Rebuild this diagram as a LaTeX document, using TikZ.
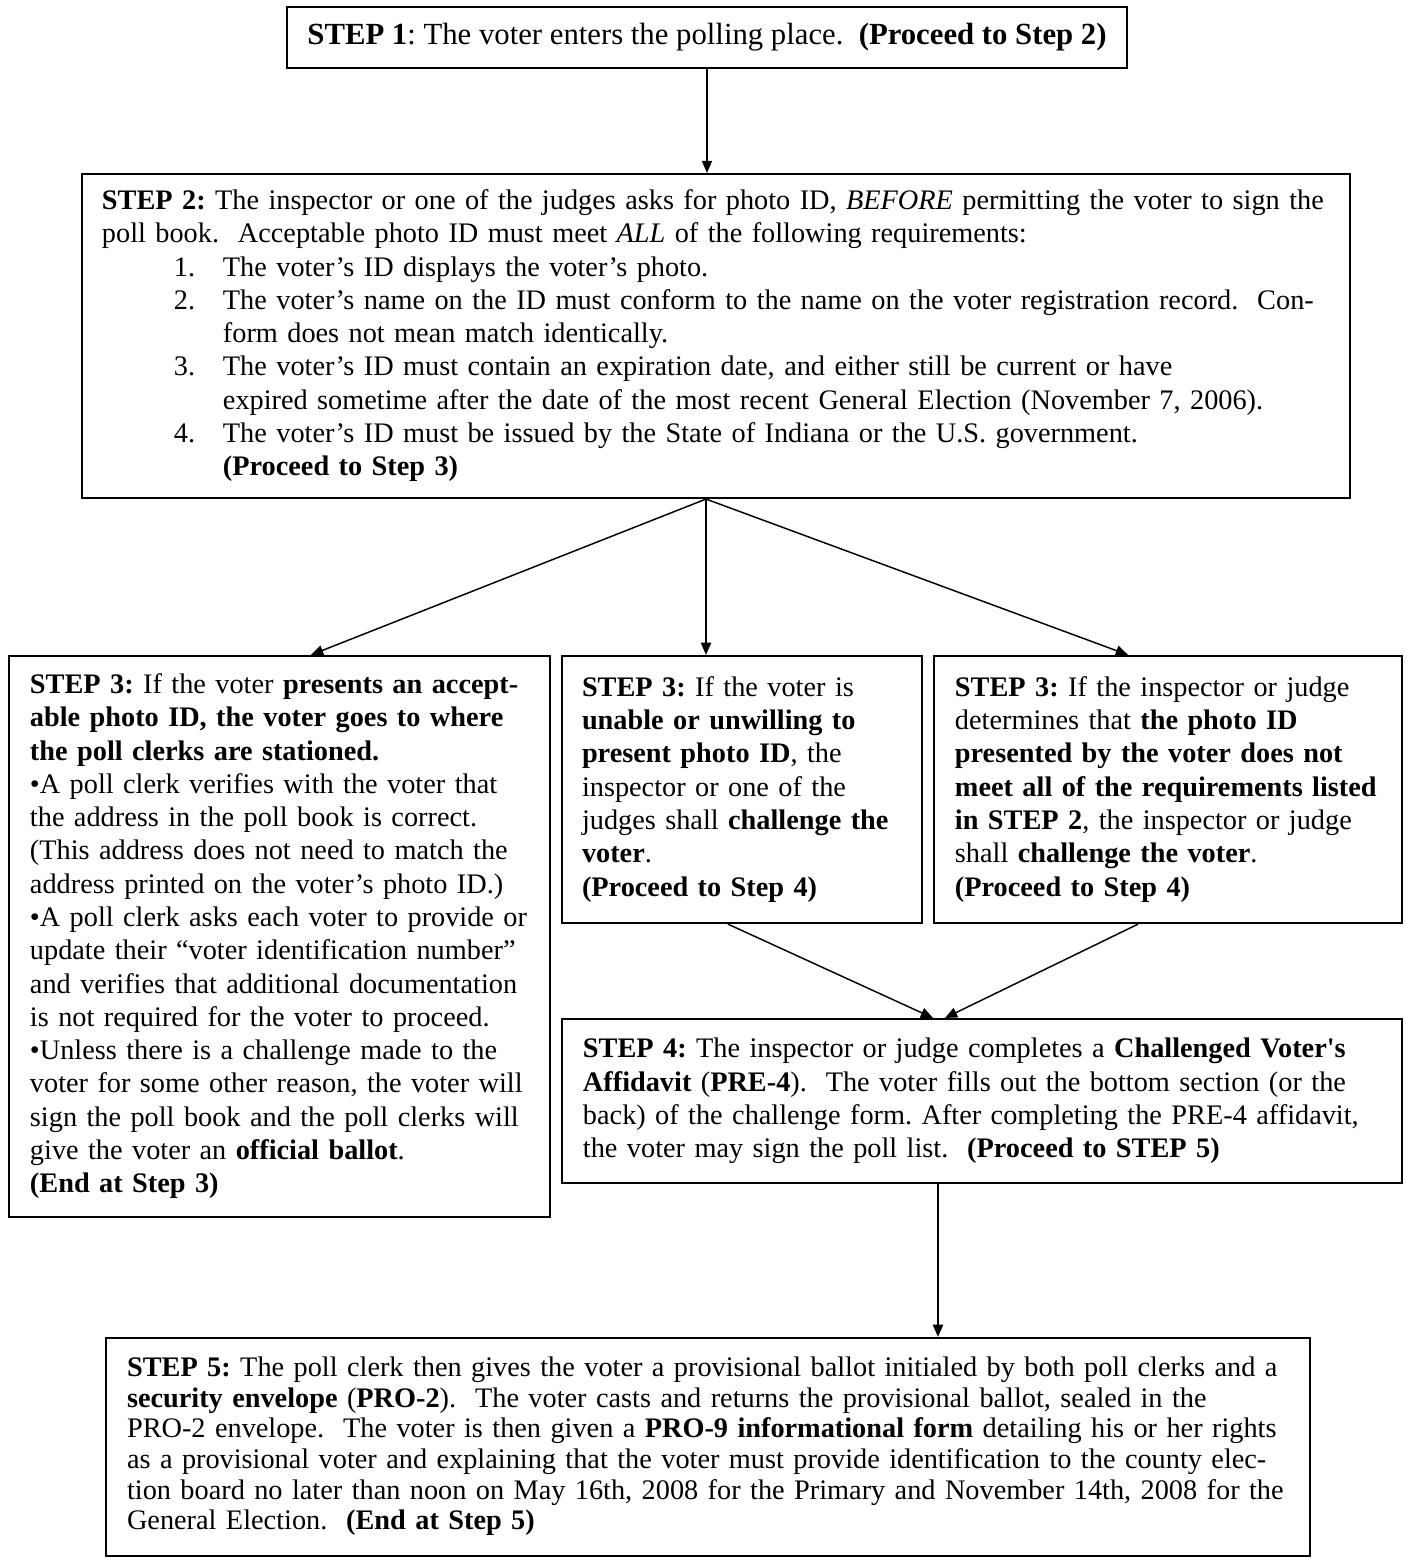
\documentclass[tikz,border=0pt]{standalone}
\usepackage{fontspec}
\setmainfont{Liberation Serif}
\usetikzlibrary{calc}
\usetikzlibrary{arrows.meta}

\newcommand{\steplines}[1]{\begin{tabular}{@{}l@{}}#1\end{tabular}}
\newcommand{\listnum}[1]{\hspace*{29.5pt}\makebox[20.1pt][l]{#1}}
\newcommand{\listgap}{\hspace*{49.6pt}}

\tikzset{
  stepbox/.style={draw, line width=0.9pt, rectangle, inner ysep=0pt, align=left,
    font={\fontsize{11.6}{13.65}\selectfont\frenchspacing}},
  flow/.style={line width=0.6pt, -{Triangle[length=5pt, width=4.2pt]}}
}

\begin{document}
\begin{tikzpicture}[x=0.41pt, y=-0.41pt]
  \useasboundingbox (0, 0) rectangle (1406, 1560);

  \node[stepbox, align=center, minimum width=344.4pt, minimum height=25pt,
    font={\fontsize{12.6}{14}\selectfont\frenchspacing}] (stepone) at (707, 37.5)
    {\textbf{STEP 1}: The voter enters the polling place.\ \ \textbf{(Proceed to Step 2)}};

  \node[stepbox, text width=503.5pt, inner xsep=8.2pt, minimum height=132.8pt] (steptwo) at (716, 336)
    {\steplines{%
      \textbf{STEP 2:} The inspector or one of the judges asks for photo ID, \textit{BEFORE} permitting the voter to sign the\\
      poll book.\ \ Acceptable photo ID must meet \textit{ALL} of the following requirements:\\
      \listnum{1.}The voter’s ID displays the voter’s photo.\\
      \listnum{2.}The voter’s name on the ID must conform to the name on the voter registration record.\ \ Con-\\
      \listgap form does not mean match identically.\\
      \listnum{3.}The voter’s ID must contain an expiration date, and either still be current or have\\
      \listgap expired sometime after the date of the most recent General Election (November 7, 2006).\\
      \listnum{4.}The voter’s ID must be issued by the State of Indiana or the U.S. government.\\
      \listgap\textbf{(Proceed to Step 3)}}};

  % the three outcomes of step 2
  \node[stepbox, text width=204.6pt, inner xsep=8.6pt, minimum height=230pt] (stepthreea) at (279.5, 936.5)
    {\steplines{%
      \textbf{STEP 3:} If the voter \textbf{presents an accept-}\\
      \textbf{able photo ID, the voter goes to where}\\
      \textbf{the poll clerks are stationed.}\\
      •A poll clerk verifies with the voter that\\
      the address in the poll book is correct.\\
      (This address does not need to match the\\
      address printed on the voter’s photo ID.)\\
      •A poll clerk asks each voter to provide or\\
      update their “voter identification number”\\
      and verifies that additional documentation\\
      is not required for the voter to proceed.\\
      •Unless there is a challenge made to the\\
      voter for some other reason, the voter will\\
      sign the poll book and the poll clerks will\\
      give the voter an \textbf{official ballot}.\\
      \textbf{(End at Step 3)}}};

  \node[stepbox, text width=131.2pt, inner xsep=8.2pt, minimum height=109.5pt] (stepthreeb) at (742, 789.5)
    {\steplines{%
      \textbf{STEP 3:} If the voter is\\
      \textbf{unable or unwilling to}\\
      \textbf{present photo ID}, the\\
      inspector or one of the\\
      judges shall \textbf{challenge the}\\
      \textbf{voter}.\\
      \textbf{(Proceed to Step 4)}}};

  \node[stepbox, text width=174.7pt, inner xsep=8.6pt, minimum height=109.5pt] (stepthreec) at (1168, 789.5)
    {\steplines{%
      \textbf{STEP 3:} If the inspector or judge\\
      determines that \textbf{the photo ID}\\
      \textbf{presented by the voter does not}\\
      \textbf{meet all of the requirements listed}\\
      \textbf{in STEP 2}, the inspector or judge\\
      shall \textbf{challenge the voter}.\\
      \textbf{(Proceed to Step 4)}}};

  \node[stepbox, text width=327.2pt, inner xsep=8.6pt, minimum height=67.2pt] (stepfour) at (982, 1101)
    {\steplines{%
      \textbf{STEP 4:} The inspector or judge completes a \textbf{Challenged Voter\textquotesingle s}\\
      \textbf{Affidavit} (\textbf{PRE-4}).\ \ The voter fills out the bottom section (or the\\
      back) of the challenge form. After completing the PRE-4 affidavit,\\
      the voter may sign the poll list.\ \ \textbf{(Proceed to STEP 5)}}};

  \node[stepbox, text width=476.4pt, inner xsep=8.6pt, minimum height=89.4pt,
    font={\fontsize{11.6}{12.55}\selectfont\frenchspacing}] (stepfive) at (708, 1447)
    {\steplines{%
      \textbf{STEP 5:} The poll clerk then gives the voter a provisional ballot initialed by both poll clerks and a\\
      \textbf{security envelope} (\textbf{PRO-2}).\ \ The voter casts and returns the provisional ballot, sealed in the\\
      PRO-2 envelope.\ \ The voter is then given a \textbf{PRO-9 informational form} detailing his or her rights\\
      as a provisional voter and explaining that the voter must provide identification to the county elec-\\
      tion board no later than noon on May 16th, 2008 for the Primary and November 14th, 2008 for the\\
      General Election.\ \ \textbf{(End at Step 5)}}};

  % connectors
  \draw[flow] (stepone.south) -- (stepone.south |- steptwo.north);
  \coordinate (fan) at ($(steptwo.south)+(-10, 0)$);
  \draw[flow] (fan) -- ($(stepthreea.north)+(31.5, 0)$);
  \draw[flow] (fan) -- (fan |- stepthreeb.north);
  \draw[flow] (fan) -- ($(stepthreec.north)+(-40, 0)$);
  \draw[flow] ($(stepthreeb.south)+(-14, 0)$) -- ($(stepfour.north)+(-49, 0)$);
  \draw[flow] ($(stepthreec.south)+(-30, 0)$) -- ($(stepfour.north)+(-37, 0)$);
  \coordinate (drop) at ($(stepfour.south)+(-44, 0)$);
  \draw[flow] (drop) -- (drop |- stepfive.north);
\end{tikzpicture}
\end{document}
